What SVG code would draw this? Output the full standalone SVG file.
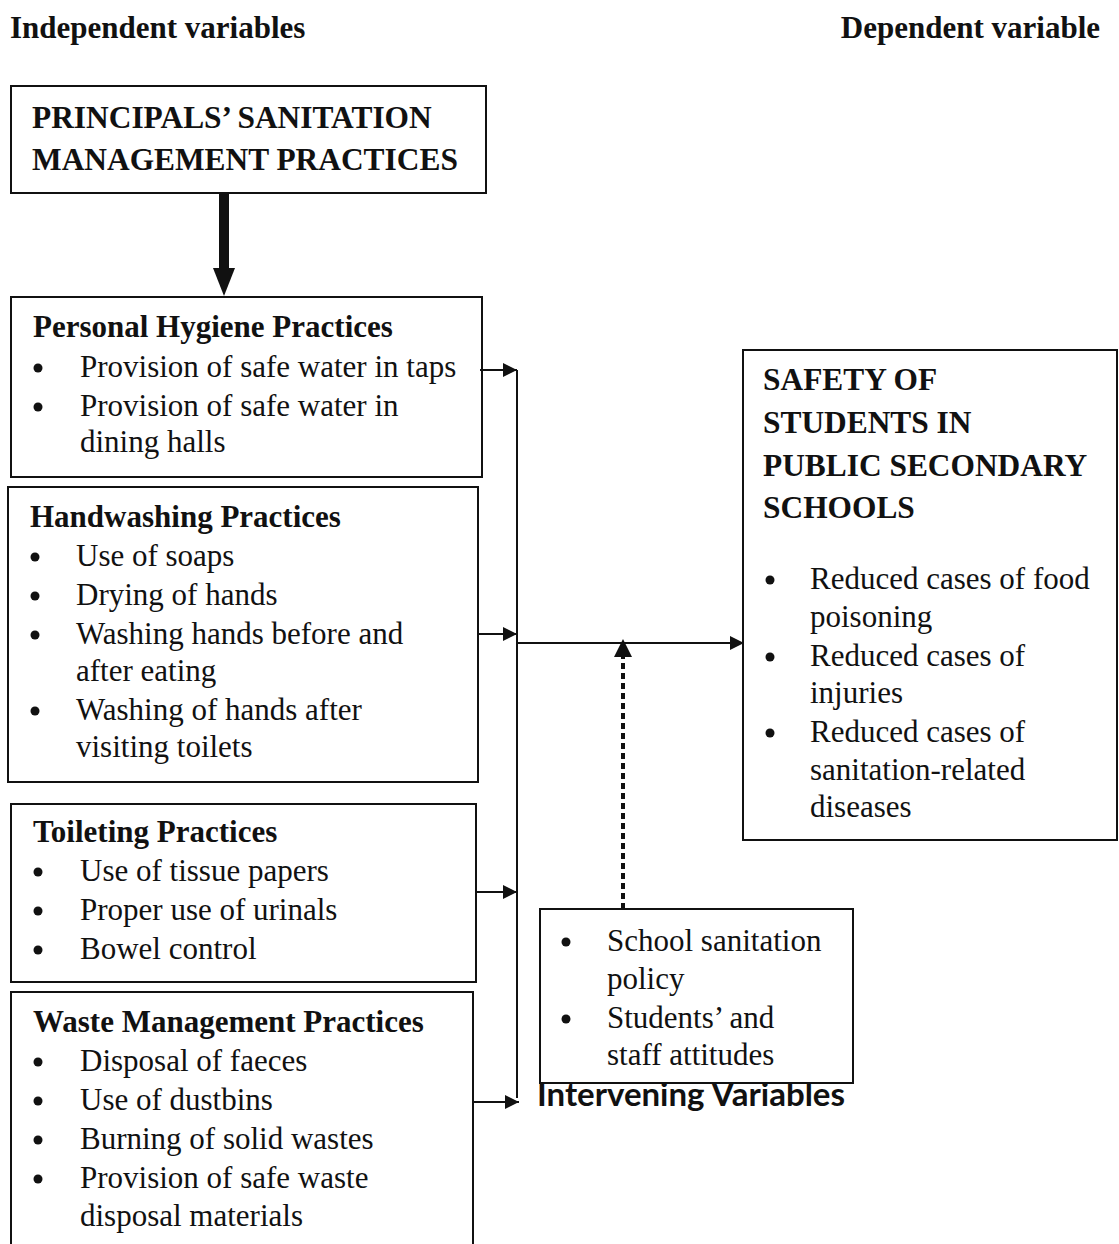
<svg xmlns="http://www.w3.org/2000/svg" width="1119" height="1244" viewBox="0 0 1119 1244">
<style>
.box{fill:#fff;stroke:#111;stroke-width:2}
.t{font-family:"Liberation Serif","Times New Roman",serif;font-size:31px;fill:#111}
.b{font-family:"Liberation Serif","Times New Roman",serif;font-weight:bold;fill:#111}
.h{font-size:31px}
.cap{font-size:31.4px}
.hdr{font-size:31px}
.ln{stroke:#111;stroke-width:2;fill:none}
.iv{font-family:Lato,"Open Sans",sans-serif;font-weight:bold;font-size:33px;fill:#111}
.dot{fill:#111}
</style>
<defs>
<marker id="ah2" viewBox="0 0 10 10" refX="10" refY="5" markerWidth="14" markerHeight="14" markerUnits="userSpaceOnUse" orient="auto">
<path d="M0,0 L10,5 L0,10 z" fill="#111"/>
</marker>
</defs>
<rect width="1119" height="1244" fill="#fff"/>
<g id="headers">
<text class="b hdr" x="10" y="38">Independent variables</text>
<text class="b hdr" x="1100" y="38" text-anchor="end">Dependent variable</text>
</g>
<g id="principals">
<rect class="box" x="11" y="86" width="475" height="107"/>
<text class="b cap" x="32" y="128">PRINCIPALS’ SANITATION</text>
<text class="b cap" x="32" y="170">MANAGEMENT PRACTICES</text>
</g>
<g id="personal-hygiene">
<rect class="box" x="11" y="297" width="471" height="180"/>
<text class="b h" x="33" y="337">Personal Hygiene Practices</text>
<circle class="dot" cx="38" cy="368" r="4.5"/><text class="t" x="80" y="377">Provision of safe water in taps</text>
<circle class="dot" cx="38" cy="407" r="4.5"/><text class="t" x="80" y="416">Provision of safe water in</text>
<text class="t" x="80" y="452">dining halls</text>
</g>
<g id="handwashing">
<rect class="box" x="8" y="487" width="470" height="295"/>
<text class="b h" x="30" y="527">Handwashing Practices</text>
<circle class="dot" cx="35" cy="557" r="4.5"/><text class="t" x="76" y="566">Use of soaps</text>
<circle class="dot" cx="35" cy="596" r="4.5"/><text class="t" x="76" y="605">Drying of hands</text>
<circle class="dot" cx="35" cy="635" r="4.5"/><text class="t" x="76" y="644">Washing hands before and</text>
<text class="t" x="76" y="681">after eating</text>
<circle class="dot" cx="35" cy="711" r="4.5"/><text class="t" x="76" y="720">Washing of hands after</text>
<text class="t" x="76" y="757">visiting toilets</text>
</g>
<g id="toileting">
<rect class="box" x="11" y="804" width="465" height="178"/>
<text class="b h" x="33" y="842">Toileting Practices</text>
<circle class="dot" cx="38" cy="872" r="4.5"/><text class="t" x="80" y="881">Use of tissue papers</text>
<circle class="dot" cx="38" cy="911" r="4.5"/><text class="t" x="80" y="920">Proper use of urinals</text>
<circle class="dot" cx="38" cy="950" r="4.5"/><text class="t" x="80" y="959">Bowel control</text>
</g>
<g id="waste">
<rect class="box" x="11" y="992" width="462" height="260"/>
<text class="b h" x="33" y="1032">Waste Management Practices</text>
<circle class="dot" cx="38" cy="1062" r="4.5"/><text class="t" x="80" y="1071">Disposal of faeces</text>
<circle class="dot" cx="38" cy="1101" r="4.5"/><text class="t" x="80" y="1110">Use of dustbins</text>
<circle class="dot" cx="38" cy="1140" r="4.5"/><text class="t" x="80" y="1149">Burning of solid wastes</text>
<circle class="dot" cx="38" cy="1179" r="4.5"/><text class="t" x="80" y="1188">Provision of safe waste</text>
<text class="t" x="80" y="1226">disposal materials</text>
</g>
<g id="safety">
<rect class="box" x="743" y="350" width="374" height="490"/>
<text class="b cap" x="763" y="390">SAFETY OF</text>
<text class="b cap" x="763" y="433">STUDENTS IN</text>
<text class="b cap" x="763" y="476">PUBLIC SECONDARY</text>
<text class="b cap" x="763" y="518">SCHOOLS</text>
<circle class="dot" cx="770" cy="580" r="4.5"/><text class="t" x="810" y="589">Reduced cases of food</text>
<text class="t" x="810" y="627">poisoning</text>
<circle class="dot" cx="770" cy="657" r="4.5"/><text class="t" x="810" y="666">Reduced cases of</text>
<text class="t" x="810" y="703">injuries</text>
<circle class="dot" cx="770" cy="733" r="4.5"/><text class="t" x="810" y="742">Reduced cases of</text>
<text class="t" x="810" y="780">sanitation-related</text>
<text class="t" x="810" y="817">diseases</text>
</g>
<g id="intervening">
<rect class="box" x="540" y="909" width="313" height="174"/>
<circle class="dot" cx="566" cy="942" r="4.5"/><text class="t" x="607" y="951">School sanitation</text>
<text class="t" x="607" y="989">policy</text>
<circle class="dot" cx="566" cy="1019" r="4.5"/><text class="t" x="607" y="1028">Students’ and</text>
<text class="t" x="607" y="1065">staff attitudes</text>
<text class="iv" x="537" y="1106">Intervening Variables</text>
</g>
<g id="connectors">
<line x1="224" y1="193" x2="224" y2="270" stroke="#111" stroke-width="10"/>
<path d="M213,268 L235,268 L224,296 z" fill="#111"/>
<line class="ln" x1="517" y1="370" x2="517" y2="1098"/>
<line class="ln" x1="480" y1="370" x2="517" y2="370" marker-end="url(#ah2)"/>
<line class="ln" x1="478" y1="634" x2="517" y2="634" marker-end="url(#ah2)"/>
<line class="ln" x1="476" y1="892" x2="517" y2="892" marker-end="url(#ah2)"/>
<line class="ln" x1="473" y1="1102" x2="519" y2="1102" marker-end="url(#ah2)"/>
<line class="ln" x1="517" y1="643" x2="744" y2="643" marker-end="url(#ah2)"/>
<line x1="623" y1="909" x2="623" y2="655" stroke="#111" stroke-width="4" stroke-dasharray="6,4"/>
<path d="M614,657 L632,657 L623,639 z" fill="#111"/>
</g>
</svg>
